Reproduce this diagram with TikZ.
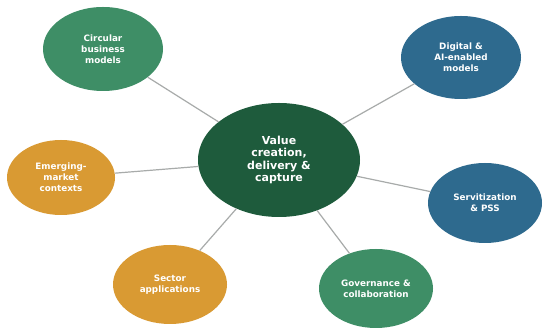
\documentclass[tikz,border=0pt]{standalone}
\usepackage{fontspec}
\setmainfont{DejaVu Sans}
\usetikzlibrary{shapes.geometric}
\definecolor{cdark}{HTML}{1E5B3C}
\definecolor{cgreen}{HTML}{3E8E66}
\definecolor{cblue}{HTML}{2E6A8E}
\definecolor{corange}{HTML}{D99A33}
\definecolor{cline}{HTML}{A8ABAA}
\tikzset{
  bub/.style={ellipse, inner sep=0pt, text=white, align=center,
    font=\fontsize{8.8}{10.8}\selectfont\bfseries},
  hub/.style={ellipse, inner sep=0pt, fill=cdark, text=white, align=center,
    minimum width=162pt, minimum height=114pt,
    font=\fontsize{11}{12.2}\selectfont\bfseries},
  link/.style={draw=cline, line width=1.2pt}
}
\begin{document}
\begin{tikzpicture}[x=1pt,y=-1pt]
\useasboundingbox (0,0) rectangle (550,336);
\fill[white] (0,0) rectangle (550,336);
\node[hub] (c) at (279,160) {Value\\creation,\\delivery \&\\capture};
\node[bub, fill=cgreen, minimum width=120pt, minimum height=84pt] (cbm) at (103,49) {Circular\\business\\models};
\node[bub, fill=cblue, minimum width=120pt, minimum height=83pt] (dig) at (461,57.5) {Digital \&\\AI-enabled\\models};
\node[bub, fill=corange, minimum width=108pt, minimum height=75pt] (emk) at (61,177.5) {Emerging-\\market\\contexts};
\node[bub, fill=cblue, minimum width=114pt, minimum height=80pt] (srv) at (485,203) {Servitization\\\& PSS};
\node[bub, fill=corange, minimum width=114pt, minimum height=79pt] (sec) at (170,284.5) {Sector\\applications};
\node[bub, fill=cgreen, minimum width=114pt, minimum height=79pt] (gov) at (376,288.5) {Governance \&\\collaboration};
\foreach \n in {cbm,dig,emk,srv,sec,gov}{
  \draw[link] (c) -- (\n);
}
\end{tikzpicture}
\end{document}
